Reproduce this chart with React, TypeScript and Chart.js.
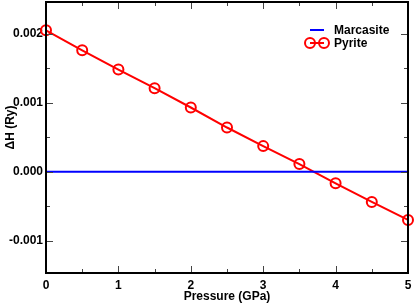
import React, { useEffect, useRef } from "react";
import { Chart, registerables } from "chart.js";

Chart.register(...registerables);

const pressure = [0, 0.5, 1, 1.5, 2, 2.5, 3, 3.5, 4, 4.5, 5];
const pyriteDH = [0.00205, 0.00176, 0.00148, 0.00121, 0.00093, 0.00064, 0.00037, 0.00011, -0.00017, -0.00044, -0.0007];
const marcasiteDH = [0, 0, 0, 0, 0, 0, 0, 0, 0, 0, 0];
const seriesNames = ["Marcasite", "Pyrite"];
const xMajorTicks = [0, 1, 2, 3, 4, 5];
const xMinorTicks = [0.5, 1.5, 2.5, 3.5, 4.5];
const yMajorTicks = [-0.001, 0, 0.001, 0.002];
const yMinorTicks = [-0.0005, 0.0005, 0.0015];
const xTitle = "Pressure (GPa)";
const yTitle = "ΔH (Ry)";

const FONT = "'Liberation Sans', Arial, Helvetica, sans-serif";

const zeroPad = () => ({ left: 0, top: 0, right: 0, bottom: 0 });

const framePlugin = {
  id: "frameTicks",
  afterDatasetsDraw(chart: any) {
    const { ctx, chartArea: a, scales } = chart;
    const xs = scales.x;
    const ys = scales.y;
    ctx.save();
    ctx.strokeStyle = "#444";
    ctx.lineWidth = 1;
    const drawX = (vals: number[], len: number) => {
      vals.forEach((v) => {
        const px = Math.round(xs.getPixelForValue(v)) + 0.5;
        ctx.beginPath();
        ctx.moveTo(px, a.bottom);
        ctx.lineTo(px, a.bottom - len);
        ctx.moveTo(px, a.top);
        ctx.lineTo(px, a.top + len);
        ctx.stroke();
      });
    };
    const drawY = (vals: number[], len: number) => {
      vals.forEach((v) => {
        const py = Math.round(ys.getPixelForValue(v)) + 0.5;
        ctx.beginPath();
        ctx.moveTo(a.left, py);
        ctx.lineTo(a.left + len, py);
        ctx.moveTo(a.right, py);
        ctx.lineTo(a.right - len, py);
        ctx.stroke();
      });
    };
    drawX(xMajorTicks, 7);
    drawX(xMinorTicks, 4);
    drawY(yMajorTicks, 7);
    drawY(yMinorTicks, 4);
    ctx.strokeStyle = "#000";
    ctx.lineWidth = 2;
    ctx.strokeRect(a.left, a.top, a.right - a.left, a.bottom - a.top);
    ctx.restore();
  },
  afterDraw(chart: any) {
    const { ctx, chartArea: a } = chart;
    const ds = chart.data.datasets;
    ctx.save();
    ctx.font = `bold 12px ${FONT}`;
    ctx.fillStyle = "#000";
    ctx.textBaseline = "middle";
    ctx.textAlign = "left";
    const x0 = a.right - 98;
    const textX = a.right - 74;
    let y = a.top + 28;
    ctx.strokeStyle = ds[0].borderColor;
    ctx.lineWidth = 2;
    ctx.beginPath();
    ctx.moveTo(x0, y);
    ctx.lineTo(x0 + 14, y);
    ctx.stroke();
    ctx.fillText(ds[0].label, textX, y + 1);
    y = a.top + 41;
    ctx.strokeStyle = ds[1].borderColor;
    ctx.lineWidth = 2;
    ctx.beginPath();
    ctx.moveTo(x0, y);
    ctx.lineTo(x0 + 14, y);
    ctx.stroke();
    [x0, x0 + 14].forEach((cx) => {
      ctx.beginPath();
      ctx.arc(cx, y, 5, 0, Math.PI * 2);
      ctx.stroke();
    });
    ctx.fillText(ds[1].label, textX, y + 1);
    ctx.restore();
  },
};

export default function App() {
  const ref = useRef<HTMLCanvasElement>(null);
  useEffect(() => {
    if (!ref.current) return;
    const chart = new Chart(ref.current, {
      type: "line",
      data: {
        datasets: [
          {
            label: seriesNames[0],
            data: pressure.map((p, i) => ({ x: p, y: marcasiteDH[i] })),
            borderColor: "#0000ff",
            borderWidth: 2,
            pointRadius: 0,
            fill: false,
            clip: false,
          },
          {
            label: seriesNames[1],
            data: pressure.map((p, i) => ({ x: p, y: pyriteDH[i] })),
            borderColor: "#ff0000",
            backgroundColor: "rgba(0,0,0,0)",
            borderWidth: 2,
            pointRadius: 5,
            pointBorderWidth: 2,
            pointBorderColor: "#ff0000",
            pointBackgroundColor: "rgba(0,0,0,0)",
            fill: false,
            clip: false,
          },
        ],
      },
      options: {
        responsive: false,
        animation: false,
        layout: { autoPadding: false, padding: { top: 2, right: 7, left: 0, bottom: 0 } },
        plugins: { legend: { display: false }, tooltip: { enabled: false } },
        scales: {
          x: {
            type: "linear",
            min: 0,
            max: 5,
            grid: { display: false, drawTicks: false },
            border: { display: false },
            afterBuildTicks: (s: any) => {
              s.ticks = xMajorTicks.map((v) => ({ value: v }));
            },
            afterFit: (s: any) => {
              s.height = 32;
              s.paddingLeft = 0;
              s.paddingRight = 0;
              s.paddingTop = 0;
              s.paddingBottom = 0;
              s.getPadding = zeroPad;
            },
            ticks: {
              color: "#000",
              padding: 5,
              maxRotation: 0,
              font: { family: FONT, size: 12, weight: "bold" },
              callback: (v: any) => String(v),
            },
            title: {
              display: true,
              text: xTitle,
              color: "#000",
              padding: { top: 0, bottom: 1 },
              font: { family: FONT, size: 12, weight: "bold" },
            },
          },
          y: {
            type: "linear",
            min: -0.00147,
            max: 0.00246,
            grid: { display: false, drawTicks: false },
            border: { display: false },
            afterBuildTicks: (s: any) => {
              s.ticks = yMajorTicks.map((v) => ({ value: v }));
            },
            afterFit: (s: any) => {
              s.width = 46;
              s.paddingTop = 0;
              s.paddingBottom = 0;
              s.paddingLeft = 0;
              s.paddingRight = 0;
              s.getPadding = zeroPad;
            },
            ticks: {
              color: "#000",
              padding: 3,
              font: { family: FONT, size: 12, weight: "bold" },
              callback: (v: any) => Number(v).toFixed(3),
            },
            title: {
              display: true,
              text: "      " + yTitle,
              color: "#000",
              padding: { top: 3, bottom: 0 },
              font: { family: FONT, size: 12, weight: "bold" },
            },
          },
        },
      },
      plugins: [framePlugin],
    } as any);
    return () => chart.destroy();
  }, []);
  return (
    <div style={{ position: "fixed", left: 0, top: 0, width: 415, height: 305, background: "#fff" }}>
      <canvas ref={ref} width={415} height={305} style={{ display: "block" }} />
    </div>
  );
}
